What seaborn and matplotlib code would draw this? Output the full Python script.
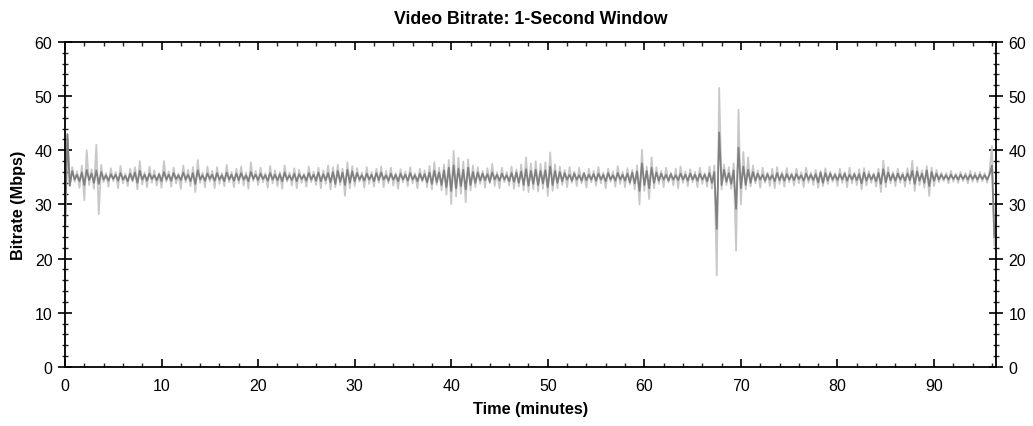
import numpy as np
import pandas as pd
import seaborn as sns
import matplotlib.pyplot as plt
from matplotlib.ticker import MultipleLocator

# samples every quarter minute (light = raw, dark = smoothed)
step_min = 0.25

light_mbps = [
    24.0, 42.8, 33.4, 36.9, 34.2, 36.1, 33.1, 37.2, 30.8, 40.0, 33.6, 36.5, 32.9, 41.0, 28.2, 37.3, 34.1, 35.8, 33.3, 36.7,
    34.3, 36.0, 33.0, 37.1, 33.9, 35.7, 33.4, 36.6, 34.2, 36.9, 32.8, 38.0, 33.7, 35.9, 33.2, 37.0, 34.0, 36.3, 33.5, 35.8,
    33.1, 38.0, 34.2, 36.1, 33.3, 36.8, 33.9, 35.7, 32.9, 37.2, 34.1, 36.4, 33.4, 36.9, 32.3, 38.2, 34.0, 35.9, 33.2, 37.0,
    34.2, 36.2, 33.0, 36.9, 33.8, 35.8, 33.4, 37.3, 34.1, 36.0, 33.2, 36.6, 33.9, 37.0, 33.5, 35.9, 32.9, 37.8, 34.3, 36.2,
    33.6, 36.8, 34.1, 35.8, 33.1, 37.1, 33.9, 36.3, 33.4, 36.0, 32.9, 37.2, 34.2, 35.9, 33.5, 36.7, 33.0, 36.4, 34.0, 35.7,
    33.3, 37.0, 34.1, 36.1, 33.6, 36.8, 33.0, 36.3, 33.8, 37.2, 32.8, 36.9, 33.2, 37.4, 33.6, 36.6, 31.6, 37.8, 33.0, 37.1,
    33.4, 36.7, 34.2, 35.9, 33.1, 36.9, 33.8, 36.0, 33.3, 36.6, 34.0, 37.0, 33.2, 36.2, 33.9, 36.8, 33.5, 35.8, 32.9, 36.5,
    34.1, 36.1, 33.4, 36.9, 33.9, 35.8, 33.0, 36.6, 34.2, 36.3, 33.2, 37.1, 32.8, 37.8, 33.6, 36.8, 32.6, 37.4, 31.8, 38.2,
    30.1, 39.9, 31.5, 38.6, 32.0, 37.9, 30.4, 38.3, 32.6, 37.2, 33.2, 36.9, 33.8, 36.2, 33.1, 36.7, 33.9, 37.5, 33.4, 36.0,
    33.0, 36.8, 34.1, 36.0, 33.5, 37.0, 32.9, 36.5, 33.3, 37.4, 32.6, 38.7, 32.3, 37.6, 32.8, 38.0, 32.4, 37.5, 32.9, 37.8,
    31.6, 39.6, 32.5, 37.4, 33.0, 37.0, 33.6, 36.4, 33.2, 36.9, 34.0, 36.1, 33.4, 36.8, 33.9, 35.8, 33.1, 36.6, 34.1, 36.2,
    33.5, 36.9, 33.9, 35.9, 33.0, 36.6, 34.2, 36.1, 33.3, 37.1, 33.8, 36.0, 33.2, 36.7, 33.7, 36.4, 32.8, 37.2, 30.0, 40.1,
    32.5, 37.0, 31.0, 38.7, 33.0, 36.9, 33.8, 36.2, 33.2, 36.8, 34.1, 35.9, 33.5, 36.6, 33.0, 37.0, 34.0, 36.1, 33.4, 36.5,
    34.1, 36.0, 33.2, 36.8, 33.8, 35.8, 33.3, 37.0, 32.9, 37.2, 16.9, 51.5, 32.8, 37.4, 33.6, 36.9, 32.9, 37.6, 21.5, 47.5,
    30.0, 39.7, 32.8, 38.7, 33.3, 37.2, 33.9, 36.3, 33.1, 36.8, 34.0, 35.9, 33.4, 36.6, 33.0, 36.9, 33.8, 36.0, 33.3, 36.7,
    34.1, 35.8, 33.5, 36.6, 33.9, 36.0, 33.2, 36.8, 34.0, 35.9, 33.6, 36.4, 33.1, 36.2, 33.4, 36.7, 33.8, 36.1, 34.2, 35.8,
    33.4, 36.6, 34.0, 36.0, 33.2, 36.8, 33.9, 35.9, 33.6, 36.5, 32.8, 36.7, 33.5, 36.2, 34.0, 35.8, 33.3, 36.6, 32.3, 38.1,
    33.2, 36.9, 33.9, 36.0, 33.4, 36.6, 34.0, 35.9, 33.3, 36.7, 33.8, 38.1, 32.5, 36.9, 33.6, 36.3, 33.1, 37.1, 31.6, 36.8,
    33.4, 36.4, 34.1, 35.9, 34.3, 35.8, 33.9, 36.2, 34.2, 35.7, 34.0, 36.0, 34.3, 35.8, 33.9, 36.2, 34.2, 35.9, 34.1, 36.0,
    34.3, 35.8, 34.0, 36.1, 40.8, 22.4,
]

dark_mbps = [
    24.5, 43.0, 33.5, 36.2, 34.6, 35.5, 34.3, 35.9, 33.6, 36.4, 34.5, 35.7, 34.0, 36.3, 33.8, 36.0, 34.6, 35.4, 34.4, 35.6,
    34.7, 35.5, 34.4, 35.8, 34.6, 35.3, 34.3, 35.7, 34.5, 35.9, 34.0, 36.2, 34.6, 35.5, 34.4, 35.7, 34.7, 35.4, 34.5, 35.6,
    34.3, 36.0, 34.6, 35.5, 34.4, 35.8, 34.7, 35.4, 34.5, 35.9, 34.6, 35.5, 34.3, 35.8, 33.8, 36.3, 34.6, 35.4, 34.4, 35.7,
    34.7, 35.5, 34.4, 35.8, 34.6, 35.4, 34.3, 35.9, 34.6, 35.5, 34.4, 35.7, 34.5, 35.8, 34.6, 35.4, 34.3, 36.0, 34.7, 35.5,
    34.5, 35.7, 34.7, 35.4, 34.4, 35.8, 34.6, 35.5, 34.5, 35.6, 34.3, 35.9, 34.6, 35.4, 34.5, 35.7, 34.3, 35.6, 34.7, 35.4,
    34.4, 35.8, 34.6, 35.5, 34.4, 35.9, 34.3, 35.6, 34.5, 35.8, 34.1, 36.0, 33.8, 36.2, 34.2, 35.9, 33.6, 36.4, 34.0, 36.1,
    34.3, 35.8, 34.6, 35.4, 34.4, 35.7, 34.6, 35.5, 34.3, 35.8, 34.5, 35.9, 34.6, 35.4, 34.4, 35.7, 34.6, 35.5, 34.3, 35.7,
    34.6, 35.5, 34.4, 35.8, 34.6, 35.4, 34.3, 35.7, 34.5, 35.6, 34.1, 35.9, 33.8, 36.2, 34.1, 35.9, 33.6, 36.3, 33.2, 36.8,
    32.5, 37.2, 33.0, 36.6, 33.4, 36.4, 32.8, 36.8, 33.6, 36.0, 34.0, 35.9, 34.4, 35.7, 34.5, 35.6, 34.2, 35.9, 34.6, 35.5,
    34.4, 35.7, 34.6, 35.4, 34.3, 35.8, 34.2, 35.9, 34.0, 36.1, 33.6, 36.5, 33.5, 36.2, 33.8, 36.4, 33.6, 36.2, 33.9, 36.3,
    33.2, 37.0, 33.6, 36.2, 34.0, 36.0, 34.3, 35.8, 34.6, 35.5, 34.4, 35.7, 34.6, 35.4, 34.4, 35.8, 34.5, 35.5, 34.6, 35.6,
    34.4, 35.7, 34.6, 35.5, 34.3, 35.8, 34.6, 35.4, 34.4, 35.8, 34.6, 35.5, 34.4, 35.7, 34.1, 35.9, 33.9, 36.1, 32.5, 37.6,
    33.6, 36.2, 33.0, 36.8, 34.0, 35.9, 34.4, 35.7, 34.6, 35.5, 34.4, 35.6, 34.6, 35.4, 34.5, 35.7, 34.6, 35.5, 34.4, 35.7,
    34.6, 35.5, 34.4, 35.7, 34.6, 35.5, 34.3, 35.8, 34.0, 36.0, 25.5, 43.3, 33.6, 36.4, 34.2, 35.8, 33.8, 36.3, 29.2, 40.5,
    33.0, 37.0, 33.6, 36.4, 34.0, 36.0, 34.4, 35.7, 34.6, 35.5, 34.4, 35.6, 34.6, 35.4, 34.3, 35.8, 34.5, 35.6, 34.4, 35.6,
    34.6, 35.5, 34.5, 35.6, 34.7, 35.4, 34.4, 35.7, 34.6, 35.5, 34.5, 35.6, 34.1, 35.9, 34.0, 35.8, 34.4, 35.7, 34.6, 35.5,
    34.5, 35.6, 34.6, 35.7, 34.4, 35.5, 34.6, 35.6, 34.5, 35.6, 33.9, 35.9, 34.4, 35.6, 34.6, 35.5, 34.3, 35.8, 33.8, 36.5,
    34.1, 35.9, 34.5, 35.6, 34.4, 35.7, 34.6, 35.5, 34.4, 35.7, 34.5, 36.2, 33.8, 36.1, 34.4, 35.7, 34.0, 36.3, 33.4, 36.0,
    34.4, 35.7, 34.6, 35.5, 34.7, 35.4, 34.6, 35.5, 34.7, 35.4, 34.6, 35.5, 34.7, 35.4, 34.6, 35.5, 34.7, 35.4, 34.6, 35.5,
    34.7, 35.4, 34.6, 35.5, 37.2, 24.0,
]

x_ticks = [0, 10, 20, 30, 40, 50, 60, 70, 80, 90]
y_ticks = [0, 10, 20, 30, 40, 50, 60]

df = pd.DataFrame({
    'minutes': np.arange(len(light_mbps)) * step_min,
    'light': light_mbps,
    'dark': dark_mbps,
})

sns.set_style('ticks')
plt.rcParams['font.family'] = ['Liberation Sans', 'DejaVu Sans']
plt.rcParams['text.color'] = 'black'
plt.rcParams['axes.labelcolor'] = 'black'

fig = plt.figure(figsize=(10.33, 4.27), dpi=100)
ax = fig.add_axes([0.0629, 0.1382, 0.9013, 0.7611])

# fairly thick strokes so the dense zig-zag reads as a filled band
sns.lineplot(data=df, x='minutes', y='light', ax=ax, color='#c8c8c8',
             linewidth=1.3, estimator=None, sort=False)
sns.lineplot(data=df, x='minutes', y='dark', ax=ax, color='#808080',
             linewidth=1.3, estimator=None, sort=False)

ax.set_xlim(0, 96.42)
ax.set_ylim(0, 60)
ax.set_xticks(x_ticks)
ax.set_yticks(y_ticks)
ax.xaxis.set_minor_locator(MultipleLocator(2))
ax.yaxis.set_minor_locator(MultipleLocator(2))

ax.tick_params(axis='x', which='major', direction='in', length=6, width=1.2,
               top=True, labelsize=11.5, pad=8, colors='black')
ax.tick_params(axis='x', which='minor', direction='in', length=3, width=1,
               top=True)
ax.tick_params(axis='y', which='major', direction='inout', length=10, width=1.2,
               right=True, labelright=True, labelsize=11.5, pad=4, colors='black')
ax.tick_params(axis='y', which='minor', direction='inout', length=5, width=1,
               right=True)

for s in ax.spines.values():
    s.set_visible(True)
    s.set_linewidth(1.3)
    s.set_color('black')

ax.set_title('Video Bitrate: 1-Second Window', fontsize=12.8, fontweight='bold', pad=14)
ax.set_xlabel('Time (minutes)', fontsize=11.7, fontweight='bold', labelpad=6)
ax.set_ylabel('Bitrate (Mbps)', fontsize=11.7, fontweight='bold', labelpad=6)

fig.savefig('out.png', dpi=100)
